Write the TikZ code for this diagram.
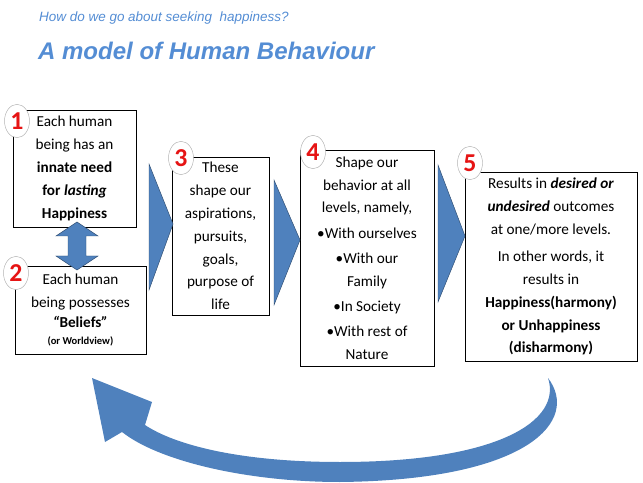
\documentclass[tikz,border=0pt]{standalone}
\usepackage{fontspec}
\setmainfont{Carlito}
\newfontfamily\titlefont{Liberation Sans}
\usetikzlibrary{shapes.geometric, arrows, positioning, calc}
\definecolor{stepblue}{RGB}{79,129,189}
\definecolor{titleblue}{RGB}{84,141,212}
\definecolor{numred}{RGB}{230,20,20}

\begin{document}
\begin{tikzpicture}[x=0.03cm, y=-0.03cm,
  box/.style={draw, thick, fill=white, align=center, font=\fontsize{13}{19.5}\selectfont},
  num/.style={ellipse, draw=gray!60, fill=white, minimum width=0.75cm, minimum height=1cm, inner sep=0pt, text=numred, font=\fontsize{22}{22}\selectfont\bfseries},
  chevron/.style={fill=stepblue, draw=stepblue!60!black}]
\useasboundingbox (0,0) rectangle (643,483);

% Title
\node[anchor=west, text=titleblue, font=\titlefont\itshape\fontsize{11.5}{14}\selectfont] (sub) at (35,18) {How do we go about seeking \ happiness?};
\node[anchor=west, text=titleblue, font=\titlefont\itshape\bfseries\fontsize{20.5}{24}\selectfont] (title) at (34,51) {A model of Human Behaviour};

% Boxes
\node[box, minimum width=123*0.03cm, minimum height=117*0.03cm] (b1) at (74.5,168.5) {Each human\\being has an\\\textbf{innate need}\\\textbf{for \textit{lasting}}\\\textbf{Happiness}};
\node[box, minimum width=131*0.03cm, minimum height=88*0.03cm, inner ysep=1pt] (b2) at (80.5,310) {Each human\\being possesses\\[-3pt]\textbf{\textit{``}Beliefs\textit{''}}\\[-5pt]{\small\bfseries (or Worldview)}};
\node[box, minimum width=97*0.03cm, minimum height=158*0.03cm] (b3) at (220.5,236) {These\\shape our\\aspirations,\\pursuits,\\goals,\\purpose of\\life};
\node[box, minimum width=134*0.03cm, minimum height=216*0.03cm] (b4) at (367,258) {Shape our\\behavior at all\\levels, namely,\\[2pt]\textbullet With ourselves\\[2pt]\textbullet With our\\Family\\[2pt]\textbullet In Society\\[2pt]\textbullet With rest of\\Nature};
\node[box, minimum width=172*0.03cm, minimum height=189*0.03cm] (b5) at (551,266.5) {Results in \textbf{\textit{desired or}}\\\textbf{\textit{undesired}} outcomes\\at one/more levels.\\[4pt]In other words, it\\results in\\\textbf{Happiness(harmony)}\\\textbf{or Unhappiness}\\\textbf{(disharmony)}};

% Numbers
\node[num] (n1) at (17,121) {1};
\node[num] (n2) at (16,273) {2};
\node[num] (n3) at (181,158) {3};
\node[num] (n4) at (313,152) {4};
\node[num] (n5) at (470,163) {5};

% Step arrows
\draw[chevron] (149,164) -- (173,224) -- (149,290) -- cycle;
\draw[chevron] (274,180) -- (300,240) -- (274,305) -- cycle;
\draw[chevron] (438,165) -- (465,236) -- (438,302) -- cycle;

% Two-way arrow
\draw[chevron] (77,222) -- (98,236) -- (86,236) -- (86,256) -- (98,256) -- (77,270)
  -- (56,256) -- (68,256) -- (68,236) -- (56,236) -- cycle;

% Return arrow
\fill[stepblue] (548,378) .. controls (562,420) and (500,462) .. (340,462)
  .. controls (240,462) and (175,445) .. (145,425) -- (152,402) -- (92,378)
  -- (105,442) -- (122,432) .. controls (160,462) and (250,482) .. (340,482)
  .. controls (530,480) and (580,420) .. (548,378) -- cycle;
\end{tikzpicture}
\end{document}
